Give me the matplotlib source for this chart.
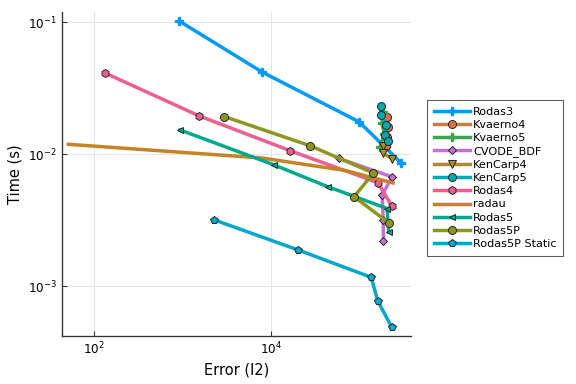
import matplotlib
matplotlib.use("Agg")
import matplotlib.pyplot as plt
from matplotlib.ticker import NullLocator

# work-precision data (error, time)
rodas3_err = [923, 7890, 98000, 291000]
rodas3_t = [0.102, 0.042, 0.0176, 0.0086]

kvaerno4_err = [203000, 208000, 203000, 198000]
kvaerno4_t = [0.0192, 0.0161, 0.0135, 0.01156]

kvaerno5_err = [183000, 178000, 188000, 169000]
kvaerno5_t = [0.0209, 0.01725, 0.01425, 0.01136]

cvode_err = [57500, 231000, 178000, 183000, 184000]
cvode_t = [0.00933, 0.00673, 0.00492, 0.00318, 0.00220]

kencarp4_err = [183000, 183000, 231000]
kencarp4_t = [0.01156, 0.01023, 0.0092]

kencarp5_err = [173000, 173000, 196000, 191000, 208000]
kencarp5_t = [0.0233, 0.0198, 0.0167, 0.0140, 0.0127]

rodas4_err = [134, 1550, 16400, 159000, 229000]
rodas4_t = [0.0413, 0.0195, 0.01064, 0.0061, 0.00406]

radau_err = [51.8, 7890, 68000, 237000]
radau_t = [0.0119, 0.00937, 0.00754, 0.00606]

rodas5_err = [940, 10800, 43200, 203000, 211000]
rodas5_t = [0.01528, 0.0083, 0.00569, 0.00388, 0.00258]

rodas5p_err = [2970, 27500, 142000, 86000, 215000]
rodas5p_t = [0.0193, 0.0116, 0.00721, 0.00477, 0.00300]

rodas5ps_err = [2290, 20300, 134000, 159000, 229000]
rodas5ps_t = [0.00318, 0.00188, 0.00117, 0.000774, 0.000489]

xticks = [1e2, 1e4]
yticks = [1e-3, 1e-2, 1e-1]

series = [
    ("Rodas3", rodas3_err, rodas3_t, "#009AFA", "P"),
    ("Kvaerno4", kvaerno4_err, kvaerno4_t, "#E36F47", "o"),
    ("Kvaerno5", kvaerno5_err, kvaerno5_t, "#3EA44E", "P"),
    ("CVODE_BDF", cvode_err, cvode_t, "#C371D2", "D"),
    ("KenCarp4", kencarp4_err, kencarp4_t, "#AC8E18", "v"),
    ("KenCarp5", kencarp5_err, kencarp5_t, "#00A9AD", "o"),
    ("Rodas4", rodas4_err, rodas4_t, "#ED5E93", "h"),
    ("radau", radau_err, radau_t, "#C68225", None),
    ("Rodas5", rodas5_err, rodas5_t, "#00A98E", "<"),
    ("Rodas5P", rodas5p_err, rodas5p_t, "#8E971D", "o"),
    ("Rodas5P Static", rodas5ps_err, rodas5ps_t, "#00A8CB", "p"),
]

fig = plt.figure(figsize=(6, 4), dpi=96)
ax = fig.add_axes([0.1076, 0.125, 0.606, 0.8445])

for name, err, t, col, mk in series:
    if mk is None:
        ax.plot(err, t, color=col, lw=2.6, label=name)
    elif mk == "P":
        ax.plot(err, t, color=col, lw=2.6, marker=mk, ms=6,
                mfc=col, mec=col, label=name)
    else:
        sz = 4.5 if mk in ("D", "<") else 6
        ax.plot(err, t, color=col, lw=2.6, marker=mk, ms=sz,
                mfc=col, mec="#222222", mew=0.7, label=name)

ax.set_xscale("log")
ax.set_yscale("log")
ax.set_xlim(43.9, 377000)
ax.set_ylim(0.00042, 0.1202)
ax.set_xticks(xticks)
ax.set_yticks(yticks)
ax.xaxis.set_minor_locator(NullLocator())
ax.yaxis.set_minor_locator(NullLocator())

ax.grid(True, which="major", color="#e6e6e6", lw=0.8)
ax.set_axisbelow(True)
for s in ("top", "right"):
    ax.spines[s].set_visible(False)
for s in ("left", "bottom"):
    ax.spines[s].set_color("#333333")
    ax.spines[s].set_linewidth(1.0)
ax.tick_params(direction="in", length=4, labelsize=9, color="#333333")

ax.set_xlabel("Error (l2)", fontsize=11)
ax.set_ylabel("Time (s)", fontsize=11)

leg = ax.legend(loc="center left", bbox_to_anchor=(1.03, 0.488), fontsize=8.4,
                frameon=True, fancybox=False, edgecolor="#333333",
                handlelength=3.2, labelspacing=0.28, borderpad=0.6,
                handletextpad=0.3)
leg.get_frame().set_linewidth(0.8)

fig.savefig("out.png", dpi=96)
